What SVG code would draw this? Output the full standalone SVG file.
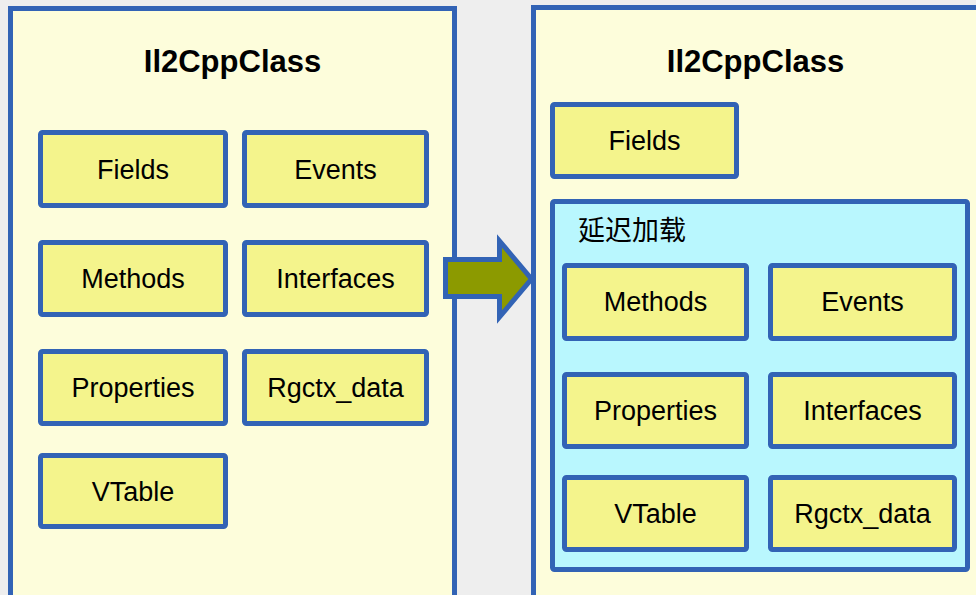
<svg xmlns="http://www.w3.org/2000/svg" width="976" height="595" viewBox="0 0 976 595">
<style>
.outer{fill:#fdfddb;stroke:#3263b5;stroke-width:5}
.lazy{fill:#b9f7fe;stroke:#3263b5;stroke-width:5}
.box{fill:#f4f48c;stroke:#3263b5;stroke-width:5}
.title{font-family:"Liberation Sans",Arial,sans-serif;font-weight:bold;font-size:31px;fill:#000;text-anchor:middle}
.lbl{font-family:"Liberation Sans",Arial,sans-serif;font-size:27px;fill:#000;text-anchor:middle}
.cjk{font-family:"Liberation Sans","Noto Sans CJK SC",sans-serif;font-size:27px;fill:#000}
.arrow{fill:#8c9a00;stroke:#3263b5;stroke-width:5;stroke-linejoin:miter}
</style>
<rect width="976" height="595" fill="#eeeeee"/>
<g id="left-class">
<rect class="outer" x="10.5" y="8.5" width="444" height="592"/>
<text class="title" x="232.5" y="72">Il2CppClass</text>
</g>
<g id="left-fields"><rect class="box" x="40.5" y="132.5" width="185" height="73" rx="2"/><text class="lbl" x="133" y="178.5">Fields</text></g>
<g id="left-events"><rect class="box" x="244.5" y="132.5" width="182" height="73" rx="2"/><text class="lbl" x="335.5" y="178.5">Events</text></g>
<g id="left-methods"><rect class="box" x="40.5" y="242.5" width="185" height="72" rx="2"/><text class="lbl" x="133" y="288">Methods</text></g>
<g id="left-interfaces"><rect class="box" x="244.5" y="242.5" width="182" height="72" rx="2"/><text class="lbl" x="335.5" y="288">Interfaces</text></g>
<g id="left-properties"><rect class="box" x="40.5" y="351.5" width="185" height="72" rx="2"/><text class="lbl" x="133" y="397">Properties</text></g>
<g id="left-rgctx"><rect class="box" x="244.5" y="351.5" width="182" height="72" rx="2"/><text class="lbl" x="335.5" y="397">Rgctx_data</text></g>
<g id="left-vtable"><rect class="box" x="40.5" y="455.5" width="185" height="71" rx="2"/><text class="lbl" x="133" y="500.5">VTable</text></g>

<g id="right-class">
<rect class="outer" x="533.5" y="7.5" width="460" height="593"/>
<text class="title" x="755.5" y="72">Il2CppClass</text>
</g>
<g id="right-fields"><rect class="box" x="552.5" y="104.5" width="184" height="72" rx="2"/><text class="lbl" x="644.5" y="150">Fields</text></g>
<g id="lazy-load">
<rect class="lazy" x="552.5" y="201.5" width="415" height="368" rx="2"/>
<text class="cjk" x="578" y="240">延迟加载</text>
</g>
<g id="right-methods"><rect class="box" x="564.5" y="265.5" width="182" height="73" rx="2"/><text class="lbl" x="655.5" y="311">Methods</text></g>
<g id="right-events"><rect class="box" x="770.5" y="265.5" width="184" height="73" rx="2"/><text class="lbl" x="862.5" y="311">Events</text></g>
<g id="right-properties"><rect class="box" x="564.5" y="374.5" width="182" height="72" rx="2"/><text class="lbl" x="655.5" y="420">Properties</text></g>
<g id="right-interfaces"><rect class="box" x="770.5" y="374.5" width="184" height="72" rx="2"/><text class="lbl" x="862.5" y="420">Interfaces</text></g>
<g id="right-vtable"><rect class="box" x="564.5" y="477.5" width="182" height="72" rx="2"/><text class="lbl" x="655.5" y="523">VTable</text></g>
<g id="right-rgctx"><rect class="box" x="770.5" y="477.5" width="184" height="72" rx="2"/><text class="lbl" x="862.5" y="523">Rgctx_data</text></g>

<g id="connectors">
<polygon class="arrow" points="445.5,259.5 499.5,259.5 499.5,241 531.5,279 499.5,317 499.5,296.5 445.5,296.5"/>
</g>
</svg>
